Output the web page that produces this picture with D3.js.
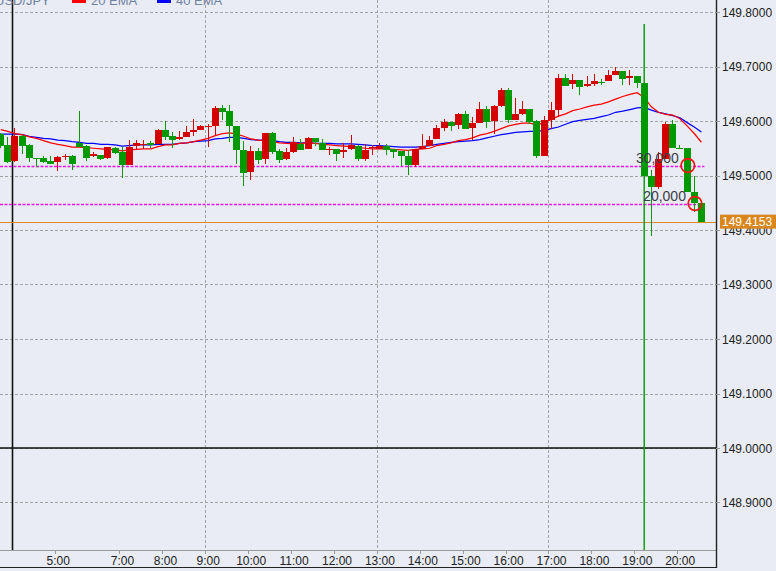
<!DOCTYPE html>
<html><head><meta charset="utf-8">
<script src="https://cdn.jsdelivr.net/npm/d3@7"></script>
<style>html,body{margin:0;padding:0;background:#E9ECF4;}svg{display:block;font-family:"Liberation Sans",Arial,sans-serif;}</style>
</head><body><div id="chart"></div>
<script>
// ---- data (10-minute USD/JPY candles, index 0..98) ----
const symbol = "USD/JPY";
const seriesNames = ["20 EMA", "40 EMA"];
const open = [149.576,149.556,149.526,149.573,149.556,149.533,149.532,149.526,149.524,149.534,
149.536,149.560,149.554,149.535,149.538,149.533,149.550,149.543,149.519,149.555,
149.556,149.559,149.557,149.584,149.573,149.567,149.570,149.579,149.583,149.589,
149.591,149.624,149.619,149.591,149.547,149.507,149.545,149.531,149.578,149.545,
149.531,149.544,149.557,149.549,149.569,149.559,149.548,149.548,149.543,149.548,
149.554,149.531,149.550,149.548,149.554,149.549,149.545,149.536,149.519,149.548,
149.554,149.567,149.587,149.598,149.593,149.613,149.588,149.597,149.622,149.600,
149.628,149.657,149.602,149.613,149.622,149.600,149.536,149.602,149.620,149.678,
149.667,149.675,149.664,149.668,149.671,149.674,149.684,149.692,149.679,149.683,
149.669,149.500,149.478,149.531,149.594,149.551,149.551,149.469,149.449];
const close = [149.555,149.524,149.573,149.555,149.532,149.532,149.524,149.522,149.534,149.535,
149.521,149.553,149.533,149.539,149.530,149.552,149.542,149.519,149.553,149.559,
149.557,149.556,149.584,149.571,149.565,149.570,149.579,149.583,149.590,149.590,
149.624,149.617,149.590,149.546,149.505,149.545,149.529,149.578,149.544,149.529,
149.544,149.561,149.547,149.569,149.561,149.546,149.549,149.540,149.547,149.556,
149.530,149.547,149.552,149.554,149.547,149.544,149.536,149.519,149.549,149.554,
149.566,149.587,149.599,149.591,149.613,149.585,149.596,149.622,149.598,149.628,
149.657,149.601,149.613,149.622,149.599,149.535,149.602,149.620,149.678,149.665,
149.675,149.663,149.668,149.673,149.670,149.684,149.692,149.677,149.683,149.669,
149.500,149.478,149.531,149.594,149.551,149.550,149.469,149.449,149.4153];
const high = [149.578,149.570,149.588,149.575,149.557,149.533,149.536,149.536,149.535,149.540,
149.537,149.619,149.556,149.543,149.538,149.553,149.552,149.553,149.565,149.565,
149.565,149.564,149.586,149.600,149.579,149.582,149.591,149.604,149.593,149.595,
149.627,149.630,149.630,149.591,149.563,149.554,149.550,149.578,149.579,149.549,
149.550,149.571,149.567,149.571,149.569,149.567,149.553,149.549,149.559,149.575,
149.556,149.558,149.556,149.559,149.558,149.549,149.545,149.546,149.549,149.576,
149.572,149.593,149.603,149.598,149.615,149.618,149.608,149.634,149.628,149.629,
149.661,149.661,149.642,149.637,149.622,149.602,149.609,149.634,149.686,149.687,
149.686,149.675,149.683,149.686,149.677,149.694,149.700,149.692,149.694,149.683,
149.669,149.510,149.544,149.599,149.602,149.556,149.551,149.500,149.449];
const low = [149.550,149.523,149.525,149.540,149.524,149.516,149.523,149.521,149.509,149.529,
149.511,149.552,149.527,149.534,149.529,149.530,149.540,149.495,149.519,149.549,
149.549,149.550,149.557,149.565,149.551,149.565,149.570,149.572,149.583,149.553,
149.575,149.601,149.562,149.521,149.480,149.492,149.521,149.521,149.539,149.523,
149.529,149.542,149.546,149.548,149.555,149.546,149.537,149.526,149.533,149.546,
149.527,149.527,149.538,149.548,149.538,149.533,149.517,149.501,149.516,149.548,
149.554,149.567,149.582,149.582,149.586,149.585,149.565,149.596,149.587,149.577,
149.626,149.597,149.601,149.611,149.595,149.533,149.535,149.585,149.608,149.665,
149.659,149.648,149.663,149.665,149.666,149.673,149.684,149.666,149.666,149.660,
149.495,149.389,149.476,149.531,149.551,149.550,149.469,149.433,149.4153];
const ema20 = [149.584,149.581,149.577,149.575,149.571,149.568,149.564,149.560,149.557,149.555,
149.552,149.552,149.551,149.550,149.549,149.548,149.547,149.545,149.547,149.548,
149.549,149.549,149.553,149.556,149.556,149.559,149.560,149.562,149.565,149.568,
149.573,149.577,149.578,149.576,149.572,149.567,149.565,149.564,149.562,149.560,
149.559,149.558,149.559,149.560,149.559,149.557,149.556,149.555,149.554,149.553,
149.551,149.550,149.549,149.549,149.549,149.548,149.547,149.546,149.548,149.549,
149.550,149.555,149.557,149.560,149.564,149.566,149.569,149.574,149.577,149.581,
149.586,149.591,149.594,149.596,149.596,149.593,149.597,149.603,149.609,149.613,
149.619,149.622,149.626,149.629,149.631,149.635,149.640,149.645,149.649,149.652,
149.643,149.626,149.616,149.612,149.611,149.604,149.591,149.577,149.561];
const ema40 = [149.576,149.576,149.576,149.575,149.572,149.570,149.568,149.567,149.565,149.564,
149.562,149.561,149.559,149.559,149.557,149.557,149.556,149.554,149.555,149.556,
149.556,149.556,149.557,149.557,149.557,149.559,149.560,149.562,149.563,149.564,
149.567,149.568,149.570,149.570,149.568,149.566,149.565,149.565,149.564,149.562,
149.561,149.561,149.560,149.560,149.559,149.559,149.559,149.558,149.558,149.558,
149.557,149.556,149.555,149.555,149.554,149.553,149.552,149.552,149.552,149.553,
149.555,149.557,149.559,149.561,149.562,149.563,149.564,149.566,149.569,149.572,
149.575,149.577,149.579,149.580,149.581,149.581,149.583,149.586,149.589,149.594,
149.599,149.601,149.603,149.605,149.608,149.611,149.616,149.618,149.621,149.624,
149.625,149.620,149.616,149.613,149.610,149.606,149.597,149.589,149.580];
const tickLabels = ["5:00","7:00","8:00","9:00","10:00","11:00","12:00","13:00","14:00","15:00","16:00","17:00","18:00","19:00","20:00"];
const tickIndex = [8,17,23,29,35,41,47,53,59,65,71,77,83,89,95];
const gridIndex = [29,53,77];
const separatorIndex = 2;
const eventIndex = 90;
const yTicks = [148.9,149.0,149.1,149.2,149.3,149.4,149.5,149.6,149.7,149.8];
const baseLine = 149.0;
const levelPrices = [149.5183, 149.4486];
const levelLabels = ["30,000", "20,000"];
const markerIndex = [96.1, 97.1];
const lastPrice = 149.4153;

// ---- layout ----
const W = 776, H = 571, plotR = 716, plotB = 550;
const svg = d3.select("#chart").append("svg").attr("width", W).attr("height", H);
svg.append("rect").attr("width", W).attr("height", H).attr("fill", "#E9ECF4");

const x = d3.scaleLinear().domain([0, 98]).range([0.7, 701.4]);
const y = d3.scaleLinear().domain([149.0, 149.8]).range([448, 12]);
const tx = i => x(i - 0.385);

svg.append("clipPath").attr("id", "clip").append("rect").attr("width", plotR).attr("height", plotB);
const g = svg.append("g").attr("clip-path", "url(#clip)");

// grid
g.selectAll(".hg").data(yTicks).join("line")
  .attr("x1", 0).attr("x2", plotR)
  .attr("y1", d => Math.round(y(d)) + 0.5).attr("y2", d => Math.round(y(d)) + 0.5)
  .attr("stroke", "#a2a2a2").attr("stroke-dasharray", "3,2").attr("stroke-width", 1);
g.selectAll(".vg").data(gridIndex).join("line")
  .attr("x1", d => Math.round(tx(d)) + 0.5).attr("x2", d => Math.round(tx(d)) + 0.5)
  .attr("y1", 0).attr("y2", plotB)
  .attr("stroke", "#a2a2a2").attr("stroke-dasharray", "3,2").attr("stroke-width", 1);

// day separator & base line
g.append("line").attr("x1", Math.round(tx(separatorIndex)) + 0.5).attr("x2", Math.round(tx(separatorIndex)) + 0.5)
  .attr("y1", 0).attr("y2", plotB).attr("stroke", "#111").attr("stroke-width", 1.6);
g.append("line").attr("x1", 0).attr("x2", plotR).attr("y1", Math.round(y(baseLine))).attr("y2", Math.round(y(baseLine)))
  .attr("stroke", "#111").attr("stroke-width", 1.6);

// level lines
g.selectAll(".lvl").data(levelPrices).join("line")
  .attr("x1", 0).attr("x2", x(98) + 3)
  .attr("y1", d => Math.round(y(d)) + 0.5).attr("y2", d => Math.round(y(d)) + 0.5)
  .attr("stroke", "#ee11ee").attr("stroke-width", 1.3).attr("stroke-dasharray", "3,1.5");

// last price line
g.append("line").attr("x1", 0).attr("x2", plotR).attr("y1", Math.round(y(lastPrice)) + 0.5).attr("y2", Math.round(y(lastPrice)) + 0.5)
  .attr("stroke", "#DA8A1E").attr("stroke-width", 1.2);

// EMA lines
const idx = d3.range(open.length);
const lineGen = arr => d3.line().x(i => x(i)).y(i => y(arr[i]))(idx);
g.append("path").attr("d", lineGen(ema40)).attr("fill", "none").attr("stroke", "#0000ff").attr("stroke-width", 1.25);
g.append("path").attr("d", lineGen(ema20)).attr("fill", "none").attr("stroke", "#ff0000").attr("stroke-width", 1.25);

// event line
g.append("line").attr("x1", x(eventIndex)).attr("x2", x(eventIndex)).attr("y1", 24).attr("y2", plotB)
  .attr("stroke", "#009a00").attr("stroke-width", 1.4);

// candles
const UP = "#d40000", DN = "#009a00";
const cg = g.append("g").attr("shape-rendering", "crispEdges");
idx.forEach(i => {
  const col = close[i] >= open[i] ? UP : DN;
  const bx = Math.round(x(i) - 3.5);
  cg.append("rect").attr("x", bx + 3).attr("width", 1)
    .attr("y", y(high[i])).attr("height", Math.max(1, y(low[i]) - y(high[i]))).attr("fill", col);
  const top = y(Math.max(open[i], close[i])), bot = y(Math.min(open[i], close[i]));
  cg.append("rect").attr("x", bx).attr("width", 7)
    .attr("y", top).attr("height", Math.max(1, bot - top)).attr("fill", col);
});

// markers & level labels
g.selectAll(".mk").data(markerIndex).join("circle")
  .attr("cx", d => x(d)).attr("cy", (d, i) => y(levelPrices[i])).attr("r", 6.8)
  .attr("fill", "none").attr("stroke", "#f01818").attr("stroke-width", 1.8);
g.selectAll(".lt").data(levelLabels).join("text")
  .attr("x", (d, i) => x(markerIndex[i]) - 9).attr("y", (d, i) => y(levelPrices[i]) - 2.5)
  .attr("text-anchor", "end").attr("font-size", 14).attr("fill", "#3c3c44").text(d => d);

// axes frame
svg.append("line").attr("x1", 0).attr("x2", plotR).attr("y1", plotB + 0.5).attr("y2", plotB + 0.5).attr("stroke", "#9a9a9a").attr("stroke-width", 1.2);
svg.append("line").attr("x1", 0).attr("x2", plotR).attr("y1", 567.5).attr("y2", 567.5).attr("stroke", "#222").attr("stroke-width", 1.2);
svg.append("line").attr("x1", plotR + 0.5).attr("x2", plotR + 0.5).attr("y1", 0).attr("y2", 568).attr("stroke", "#222").attr("stroke-width", 1.4);

// x axis ticks & labels
const xa = svg.append("g");
xa.selectAll("line").data(tickIndex).join("line")
  .attr("x1", d => Math.round(tx(d)) + 0.5).attr("x2", d => Math.round(tx(d)) + 0.5)
  .attr("y1", plotB).attr("y2", plotB + 4).attr("stroke", "#9a9a9a");
xa.selectAll("text").data(tickLabels).join("text")
  .attr("x", (d, i) => tx(tickIndex[i]) + 3).attr("y", 565)
  .attr("text-anchor", "middle").attr("font-size", 12).attr("fill", "#222").text(d => d);

// y axis labels
svg.selectAll(".yl").data(yTicks).join("text")
  .attr("x", 722).attr("y", d => y(d) + 4.5)
  .attr("font-size", 12).attr("fill", "#222").text(d => d.toFixed(4));
svg.selectAll(".yt").data(yTicks).join("line")
  .attr("x1", plotR).attr("x2", plotR + 4)
  .attr("y1", d => Math.round(y(d)) + 0.5).attr("y2", d => Math.round(y(d)) + 0.5).attr("stroke", "#9a9a9a");

// current price tag
const py = y(lastPrice);
svg.append("rect").attr("x", 720).attr("y", py - 7).attr("width", 56).attr("height", 14).attr("fill", "#D9861C");
svg.append("text").attr("x", 722).attr("y", py + 4.5).attr("font-size", 12).attr("fill", "#fff").text(lastPrice.toFixed(4));

// legend
const lg = svg.append("g").attr("font-size", 13).attr("fill", "#7182a0");
lg.append("text").attr("x", -5).attr("y", 5).text(symbol);
lg.append("rect").attr("x", 72).attr("y", -1).attr("width", 14).attr("height", 4).attr("fill", "#ff0000");
lg.append("text").attr("x", 91).attr("y", 5).text(seriesNames[0]);
lg.append("rect").attr("x", 157).attr("y", -1).attr("width", 14).attr("height", 4).attr("fill", "#0000ff");
lg.append("text").attr("x", 176).attr("y", 5).text(seriesNames[1]);
</script></body></html>
